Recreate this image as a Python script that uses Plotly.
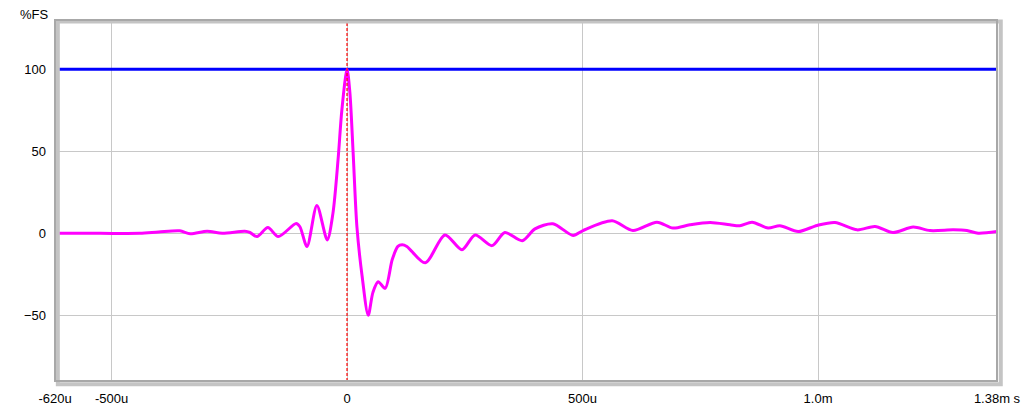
import plotly.graph_objects as go

# time in microseconds, amplitude in %FS
t_us = [-620, -524, -440, -400, -355, -333, -297, -265, -217, -206, -191, -168, -146,
        -108, -100, -85, -64, -42, -30, -19, -11, 0, 6, 13, 21, 32, 45, 55, 66, 81, 96, 108,
        117, 127, 166, 208, 244, 272, 308, 335, 372, 399, 437, 480, 501, 563, 607, 658, 692,
        728, 771, 813, 834, 860, 894, 919, 958, 998, 1036, 1083, 1121, 1159, 1202, 1238,
        1287, 1316, 1340, 1380]
amp = [0, 0, 0, 0.8, 1.5, -0.3, 1.2, 0, 1.2, 0.5, -2, 3.5, -2,
       6, 4, -8, 17, -4, 12, 45, 75, 100, 86, 49, 4, -26, -50, -36, -29.5, -33.5, -16, -8,
       -7, -8, -18, -1, -10, -1, -7.5, 0.5, -4.5, 2.7, 5.8, -1.3, 1.7, 7.6, 1.7, 6.8, 3.2,
       5.2, 6.6, 5.2, 4.6, 6.8, 3.2, 4.6, 1.1, 4.8, 6.6, 2.1, 4.2, 0.5, 3.8, 1.7,
       2.1, 1.7, 0.1, 1.1]

x_range = [-620, 1380]
y_range = [-90, 130]
ref_level = 100
x_tickvals = [-620, -500, 0, 500, 1000, 1380]
x_ticktext = ["-620u", "-500u", "0", "500u", "1.0m", "1.38m s"]
y_tickvals = [-50, 0, 50, 100]

fig = go.Figure()
fig.add_trace(go.Scatter(x=x_range, y=[ref_level, ref_level], mode="lines",
                         line=dict(color="#0000ff", width=3), hoverinfo="skip"))
fig.add_trace(go.Scatter(x=t_us, y=amp, mode="lines",
                         line=dict(color="#ff00ff", width=3, shape="spline", smoothing=0.8)))

# red dashed marker at t=0
fig.add_shape(type="line", xref="x", yref="paper", x0=0, x1=0, y0=0, y1=1,
              line=dict(color="#ff0000", width=1.2, dash="3px,2px"), layer="above")
# frame with shadow
fig.add_shape(type="rect", xref="paper", yref="paper", x0=0.003, x1=1.004, y0=-0.009, y1=0.996,
              line=dict(color="#c4c4c4", width=4), layer="above")
fig.add_shape(type="rect", xref="paper", yref="paper", x0=0, x1=1, y0=0, y1=1,
              line=dict(color="#a8a8a8", width=2), layer="above")

fig.add_annotation(text="%FS", xref="paper", yref="paper", x=-0.004, y=1.0,
                   xanchor="right", yanchor="bottom", showarrow=False,
                   font=dict(size=13, color="#000000"), yshift=-4)

fig.update_layout(
    width=1024, height=412,
    margin=dict(l=55, r=27, t=20, b=31, autoexpand=False),
    paper_bgcolor="white", plot_bgcolor="white",
    showlegend=False,
    font=dict(family="Liberation Sans, Arial, sans-serif", size=13, color="#000000"),
    xaxis=dict(range=x_range, tickvals=x_tickvals, ticktext=x_ticktext, automargin=False,
               showgrid=True, gridcolor="#c8c8c8", gridwidth=1, zeroline=False,
               showline=False, ticks="", ticklabelstandoff=8),
    yaxis=dict(range=y_range, tickvals=y_tickvals, automargin=False,
               showgrid=True, gridcolor="#c8c8c8", gridwidth=1, zeroline=False,
               showline=False, ticks="", ticklabelstandoff=8),
)

fig.write_html("out.html", config={"displayModeBar": False},
               post_script="document.body.style.margin='0';document.body.style.overflow='hidden';")
